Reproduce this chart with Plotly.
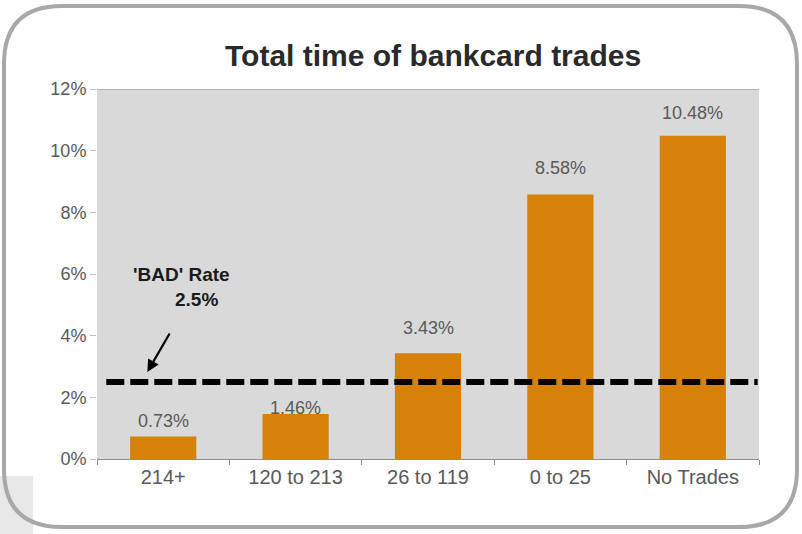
import plotly.graph_objects as go

categories = ["214+", "120 to 213", "26 to 119", "0 to 25", "No Trades"]
bad_rates = [0.73, 1.46, 3.43, 8.58, 10.48]
labels = ["0.73%", "1.46%", "3.43%", "8.58%", "10.48%"]
overall_bad_rate = 2.5
y_ticks = [0, 2, 4, 6, 8, 10, 12]
y_tick_labels = ["0%", "2%", "4%", "6%", "8%", "10%", "12%"]

# pixel offsets of value labels above bar tops (style)
label_offsets = [15, 6, 25, 26, 23]

FONT = "Liberation Sans, Arial, sans-serif"

fig = go.Figure()
fig.add_trace(go.Bar(
    x=categories, y=bad_rates,
    marker=dict(color="#d5810a", line=dict(width=0)),
    width=0.5, showlegend=False,
))

for cat, val, lab, off in zip(categories, bad_rates, labels, label_offsets):
    fig.add_annotation(x=cat, y=val, xref="x", yref="y", text=lab, showarrow=False,
                       yshift=off, yanchor="middle",
                       font=dict(family=FONT, size=18, color="#595959"))

fig.update_layout(
    width=802, height=534,
    margin=dict(l=97, r=43, t=89, b=75),
    paper_bgcolor="white", plot_bgcolor="#d9d9d9",
    title=dict(text="Total time of bankcard trades", x=0.54, xanchor="center",
               xref="container", yref="container", y=0.897, yanchor="middle",
               font=dict(family=FONT, size=30, color="#2a2a2a", weight="bold")),
    xaxis=dict(range=[-0.5, 4.5], showgrid=False, showline=True, linecolor="#8c8c8c",
               ticks="outside", ticklen=5, tickcolor="#8c8c8c", tickson="boundaries",
               tickfont=dict(family=FONT, size=20, color="#595959")),
    yaxis=dict(range=[0, 12], tickvals=y_ticks, ticktext=y_tick_labels,
               showgrid=False, showline=False, zeroline=False,
               ticks="outside", ticklen=6, tickcolor="#bfbfbf",
               tickfont=dict(family=FONT, size=18, color="#595959")),
)

# top edge line of plot area at 12%
fig.add_shape(type="line", xref="paper", yref="y", x0=0, x1=1, y0=12, y1=12,
              line=dict(color="#a6a6a6", width=1.5))

# overall bad rate dashed reference line
fig.add_shape(type="line", xref="x", yref="y", x0=-0.43, x1=4.49,
              y0=overall_bad_rate, y1=overall_bad_rate,
              line=dict(color="black", width=6, dash="18px,6px"))

# annotation with arrow
fig.add_annotation(x=-0.12, y=2.82, ax=0.055, ay=4.12, xref="x", yref="y", axref="x", ayref="y",
                   text="", showarrow=True, arrowhead=2, arrowsize=1.1, arrowwidth=2.2,
                   arrowcolor="black")
fig.add_annotation(x=0.135, y=5.97, xref="x", yref="y", showarrow=False,
                   text="<b>'BAD' Rate</b>",
                   font=dict(family=FONT, size=19, color="#1a1a1a"))
fig.add_annotation(x=0.25, y=5.16, xref="x", yref="y", showarrow=False,
                   text="<b>2.5%</b>",
                   font=dict(family=FONT, size=19, color="#1a1a1a"))

# decorative artifacts: gray patch bottom-left and rounded border
def px(x):
    return (x - 97) / 662
def py(y):
    return (534 - 75 - y) / 370

fig.add_shape(type="rect", xref="paper", yref="paper", x0=px(0), x1=px(33),
              y0=py(534), y1=py(476), fillcolor="#e8e8e8", line=dict(width=0), layer="below")
r = 58
x0, y0, x1, y1 = 4, 6, 797, 527
path = (f"M {px(x0+r)},{py(y0)} L {px(x1-r)},{py(y0)} "
        f"Q {px(x1)},{py(y0)} {px(x1)},{py(y0+r)} L {px(x1)},{py(y1-r)} "
        f"Q {px(x1)},{py(y1)} {px(x1-r)},{py(y1)} L {px(x0+r)},{py(y1)} "
        f"Q {px(x0)},{py(y1)} {px(x0)},{py(y1-r)} L {px(x0)},{py(y0+r)} "
        f"Q {px(x0)},{py(y0)} {px(x0+r)},{py(y0)} Z")
fig.add_shape(type="path", xref="paper", yref="paper", path=path,
              line=dict(color="#a8a8a8", width=4))

fig.write_html("out.html")
